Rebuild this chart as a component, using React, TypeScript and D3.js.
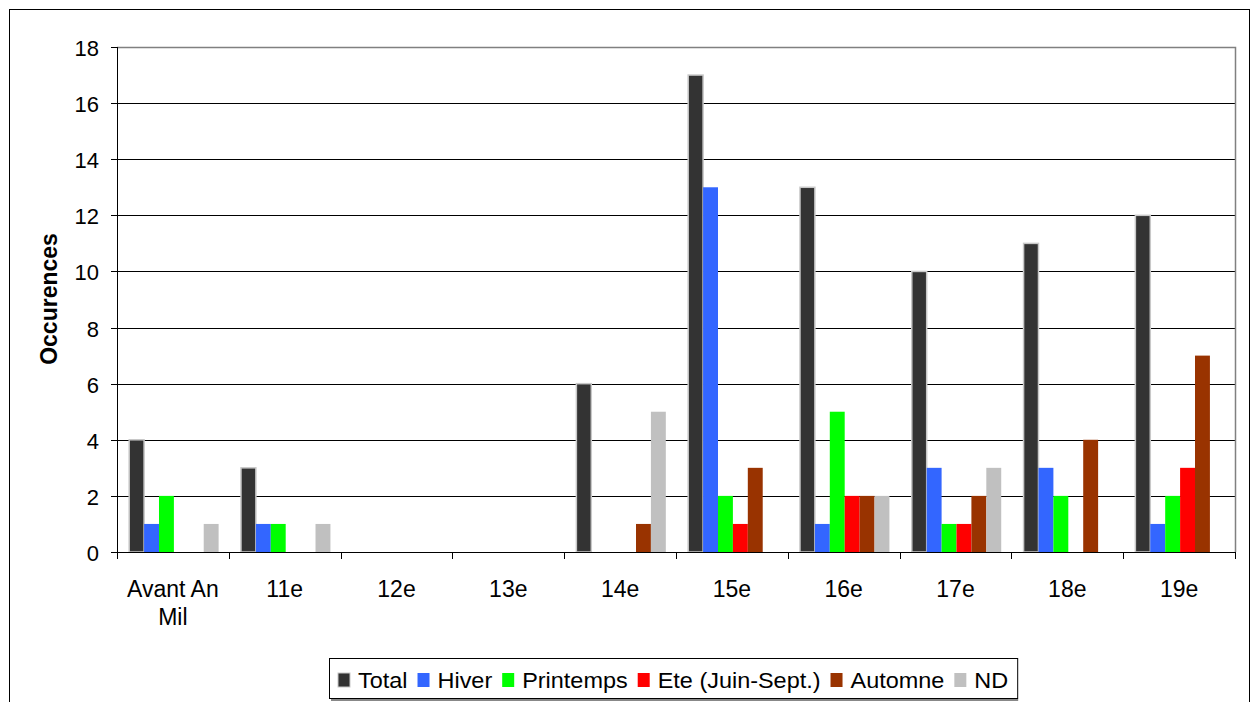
import React, { useEffect, useRef } from "react";
import * as d3 from "d3";

const categories = ["Avant An Mil", "11e", "12e", "13e", "14e", "15e", "16e", "17e", "18e", "19e"];
const seriesNames = ["Total", "Hiver", "Printemps", "Ete (Juin-Sept.)", "Automne", "ND"];
const seriesColors = ["#333333", "#3366FF", "#00FF00", "#FF0000", "#993300", "#C0C0C0"];
const total = [4, 3, 0, 0, 6, 17, 13, 10, 11, 12];
const hiver = [1, 1, 0, 0, 0, 13, 1, 3, 3, 1];
const printemps = [2, 1, 0, 0, 0, 2, 5, 1, 2, 2];
const ete = [0, 0, 0, 0, 0, 1, 2, 1, 0, 3];
const automne = [0, 0, 0, 0, 1, 3, 2, 2, 4, 7];
const nd = [1, 1, 0, 0, 5, 0, 2, 3, 0, 0];
const yTicks = [0, 2, 4, 6, 8, 10, 12, 14, 16, 18];

const seriesValues = [total, hiver, printemps, ete, automne, nd];

export default function App() {
  const ref = useRef<SVGSVGElement>(null);
  useEffect(() => {
    const svg = d3.select(ref.current);
    svg.selectAll("*").remove();
    const W = 1253, H = 702;
    const left = 117, right = 1235, top = 47, bottom = 552;
    const font = "Liberation Sans, Arial, sans-serif";

    svg.append("rect").attr("x", 0).attr("y", 0).attr("width", W).attr("height", H).attr("fill", "#fff");
    svg.append("rect").attr("x", 9.5).attr("y", 9.5).attr("width", 1240).attr("height", 720)
      .attr("fill", "none").attr("stroke", "#000").attr("stroke-width", 1);

    const x = d3.scaleBand().domain(categories).range([left, right]).padding(0);
    const xs = d3.scaleBand().domain(seriesNames).range([0, x.bandwidth()]).paddingInner(0).paddingOuter(0.75);
    const y = d3.scaleLinear().domain([0, 18]).range([bottom, top]);

    // gridlines
    svg.append("g").selectAll("line").data(yTicks.filter(t => t > 0 && t < 18)).join("line")
      .attr("x1", left).attr("x2", right)
      .attr("y1", d => Math.round(y(d)) + 0.5).attr("y2", d => Math.round(y(d)) + 0.5)
      .attr("stroke", "#000").attr("stroke-width", 1);
    // plot border top/right
    svg.append("path")
      .attr("d", `M${left},${top + 0.5}H${right + 0.5}V${bottom}`)
      .attr("fill", "none").attr("stroke", "#808080").attr("stroke-width", 1.5);

    // bars
    seriesNames.forEach((s, si) => {
      svg.append("g").selectAll("rect").data(seriesValues[si]).join("rect")
        .attr("x", (d, i) => (x(categories[i]) as number) + (xs(s) as number) + 1)
        .attr("width", xs.bandwidth())
        .attr("y", d => y(d))
        .attr("height", d => y(0) - y(d))
        .attr("fill", seriesColors[si])
        .attr("stroke", si === 0 ? "#C8C8C8" : "none")
        .attr("stroke-width", si === 0 ? 1.5 : 0)
        .style("display", d => d > 0 ? null : "none");
    });

    // axes
    svg.append("line").attr("x1", left + 0.5).attr("x2", left + 0.5).attr("y1", top).attr("y2", bottom + 6)
      .attr("stroke", "#000");
    svg.append("line").attr("x1", left).attr("x2", right + 1).attr("y1", bottom + 0.5).attr("y2", bottom + 0.5)
      .attr("stroke", "#000");
    const yg = svg.append("g");
    yTicks.forEach(t => {
      const yy = Math.round(y(t)) + 0.5;
      yg.append("line").attr("x1", left - 6).attr("x2", left).attr("y1", yy).attr("y2", yy).attr("stroke", "#000");
      yg.append("text").attr("x", 99).attr("y", yy + 8).attr("text-anchor", "end")
        .attr("font-family", font).attr("font-size", 22).text(String(t));
    });
    const xt = [...categories.map(c => x(c) as number), right];
    svg.append("g").selectAll("line").data(xt).join("line")
      .attr("x1", d => Math.round(d) + 0.5).attr("x2", d => Math.round(d) + 0.5)
      .attr("y1", bottom).attr("y2", bottom + 7).attr("stroke", "#000");
    categories.forEach(c => {
      const cx = (x(c) as number) + x.bandwidth() / 2;
      const words = c === "Avant An Mil" ? ["Avant An", "Mil"] : [c];
      words.forEach((w, wi) => {
        svg.append("text").attr("x", cx).attr("y", 597 + wi * 28).attr("text-anchor", "middle")
          .attr("font-family", font).attr("font-size", 23).text(w);
      });
    });

    // y title
    svg.append("text").attr("transform", `translate(57,${299}) rotate(-90)`)
      .attr("text-anchor", "middle").attr("font-family", font).attr("font-weight", "bold")
      .attr("font-size", 23).text("Occurences");

    // legend
    const lg = svg.append("g");
    const lx0 = 329, ly0 = 658, lh = 40;
    const box = lg.append("rect").attr("x", lx0 + 0.5).attr("y", ly0 + 0.5).attr("height", lh)
      .attr("fill", "#fff").attr("stroke", "#000");
    let cx = 338;
    seriesNames.forEach((s, si) => {
      lg.append("rect").attr("x", cx).attr("y", ly0 + 15).attr("width", 12).attr("height", 14)
        .attr("fill", seriesColors[si]).attr("stroke", si === 0 ? "#C8C8C8" : "none");
      const t = lg.append("text").attr("x", cx + 20).attr("y", ly0 + 30)
        .attr("font-family", font).attr("font-size", 21.5).text(s);
      const w0 = (t.node() as SVGTextElement).getComputedTextLength();
      const w = w0 * 1.09;
      t.attr("textLength", w).attr("lengthAdjust", "spacingAndGlyphs");
      cx += 20 + w + 10;
    });
    box.attr("width", cx - lx0 - 1);
    lg.append("line").attr("x1", lx0 + 2).attr("x2", cx).attr("y1", ly0 + lh + 2).attr("y2", ly0 + lh + 2)
      .attr("stroke", "#888").attr("stroke-width", 2);
  }, []);
  return (
    <svg ref={ref} width={1253} height={702} style={{ position: "absolute", left: 0, top: 0 }} />
  );
}
